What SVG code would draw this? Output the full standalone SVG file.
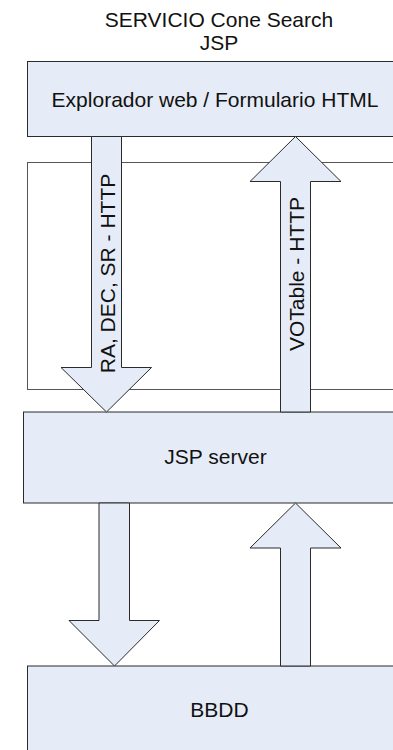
<svg xmlns="http://www.w3.org/2000/svg" width="393" height="750" viewBox="0 0 393 750">
  <style>
    .box { fill: #E5ECF7; stroke: #2b2b2b; stroke-width: 1; }
    .frame { fill: #FFFFFF; stroke: #555555; stroke-width: 1; }
    .arrow { fill: #E5ECF7; stroke: #2b2b2b; stroke-width: 1; stroke-linejoin: miter; }
    .label { font-family: "Liberation Sans", Arial, sans-serif; font-size: 21px; fill: #111111; }
  </style>
  <rect width="393" height="750" fill="#FFFFFF"/>

  <!-- Title -->
  <g id="title">
    <text class="label" x="219" y="26.5" text-anchor="middle">SERVICIO Cone Search</text>
    <text class="label" x="219" y="50" text-anchor="middle">JSP</text>
  </g>

  <!-- HTTP layer frame -->
  <g id="http-frame">
    <rect class="frame" x="27.5" y="162.5" width="380" height="227"/>
  </g>

  <!-- Nodes -->
  <g id="browser">
    <rect class="box" x="27.5" y="61.5" width="380" height="75"/>
    <text class="label" x="215" y="107" text-anchor="middle">Explorador web / Formulario HTML</text>
  </g>

  <g id="jsp-server">
    <rect class="box" x="23.5" y="412" width="384" height="91"/>
    <text class="label" x="215.5" y="464" text-anchor="middle">JSP server</text>
  </g>

  <g id="bbdd">
    <rect class="box" x="27.5" y="666" width="380" height="100"/>
    <text class="label" x="219.5" y="716.5" text-anchor="middle">BBDD</text>
  </g>

  <!-- Connectors: block arrows -->
  <g id="connectors">
    <!-- request: browser to JSP server -->
    <path class="arrow" d="M91.5,136.5 H121.5 V367.5 H151.5 L106.5,412 L61,367.5 H91.5 Z"/>
    <text class="label" transform="translate(115,273.5) rotate(-90)" text-anchor="middle">RA, DEC, SR - HTTP</text>

    <!-- response: JSP server to browser -->
    <path class="arrow" d="M280.5,412 V181.5 H250 L295.5,136.5 L341,181.5 H310.5 V412 Z"/>
    <text class="label" transform="translate(303.5,274) rotate(-90)" text-anchor="middle">VOTable - HTTP</text>

    <!-- query: JSP server to BBDD -->
    <path class="arrow" d="M99,503 H129.5 V620.5 H159.5 L114.5,666 L69,620.5 H99 Z"/>

    <!-- result: BBDD to JSP server -->
    <path class="arrow" d="M280.5,666 V548 H250 L295.5,503 L341,548 H310.5 V666 Z"/>
  </g>
</svg>
